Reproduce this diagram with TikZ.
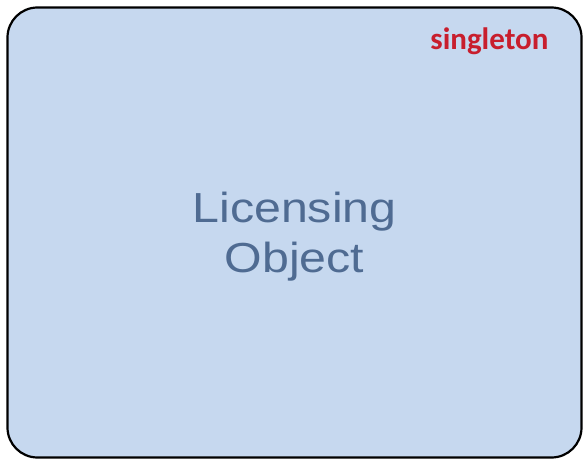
\documentclass[tikz,border=0pt]{standalone}
\usepackage{fontspec}
\setmainfont{Liberation Sans}
\newfontfamily\calibri{Carlito}
\usetikzlibrary{positioning}
\definecolor{boxblue}{HTML}{C6D8EF}
\definecolor{textblue}{HTML}{4F6B92}
\definecolor{darkred}{HTML}{C81E2D}
\tikzset{
  objbox/.style={draw=black, line width=2.2pt, fill=boxblue, rounded corners=30pt,
    minimum width=574pt, minimum height=450pt, inner sep=0pt},
  objname/.style={text=textblue, font=\fontsize{42}{50}\selectfont, align=center, xscale=1.15},
  tag/.style={text=darkred, font=\calibri\bfseries\fontsize{31}{34}\selectfont}
}

\begin{document}
\begin{tikzpicture}[x=1pt,y=-1pt]

  \useasboundingbox (0,0) rectangle (585,462); %% positioning

  \node[objbox] (licbox) at (294.5,232.5) {};
  \node[objname] (licname) at (294.5,237) {Licensing\\Object};
  \node[tag, anchor=north east] (single) at (552,24) {singleton};

\end{tikzpicture}
\end{document}
